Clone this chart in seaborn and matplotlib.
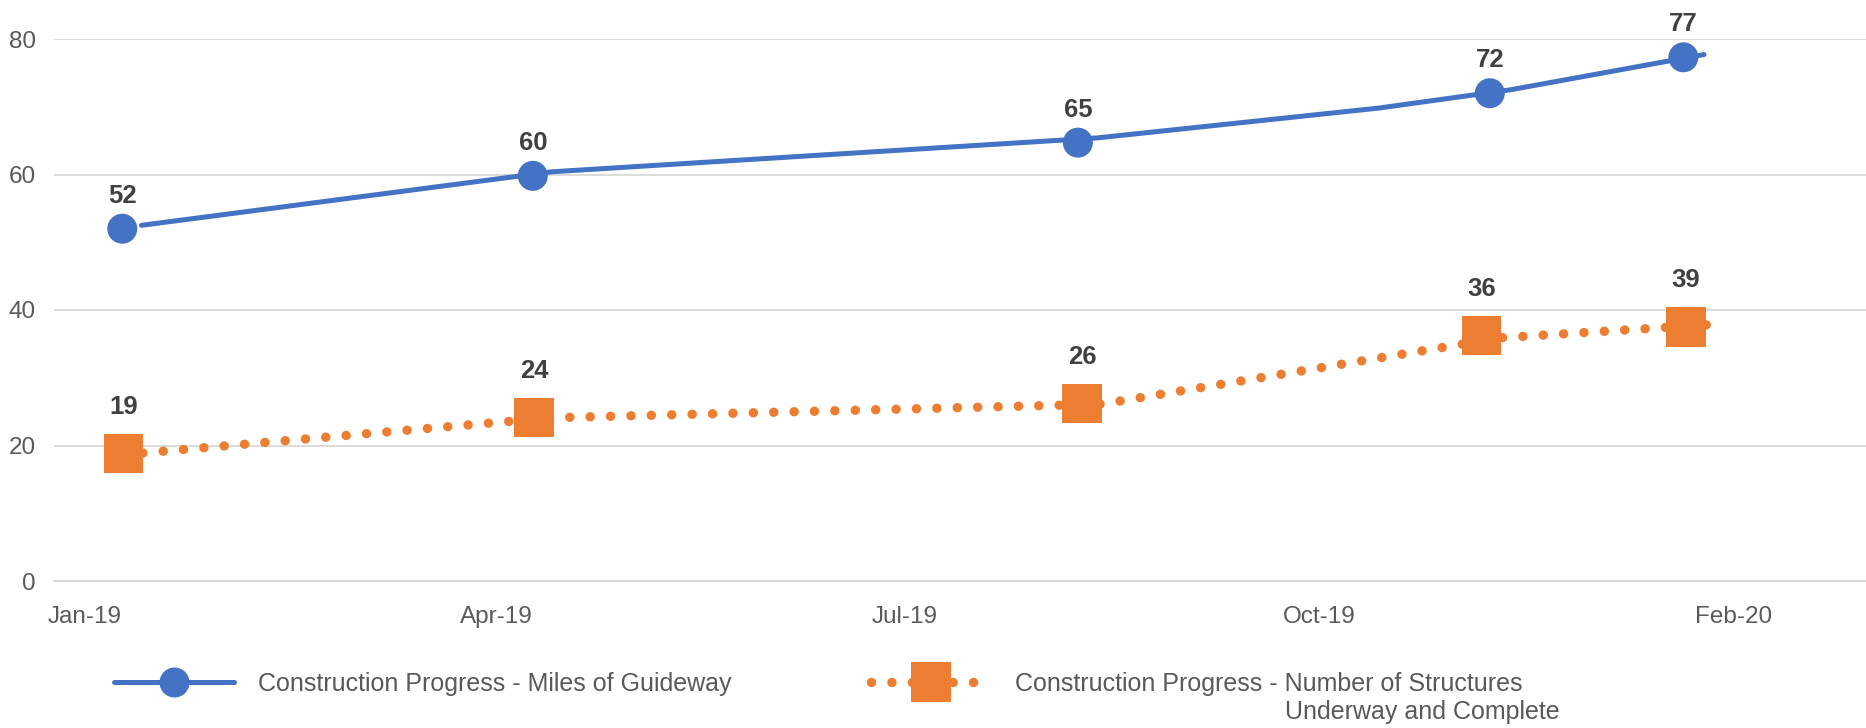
import seaborn as sns
import matplotlib.pyplot as plt
from matplotlib.lines import Line2D
import matplotlib.transforms as mtrans

# x axis in months from Jan-19, ticks every quarter (Excel labelled the last one Feb-20)
tick_pos = [0, 3, 6, 9, 12]
tick_labels = ['Jan-19', 'Apr-19', 'Jul-19', 'Oct-19', 'Feb-20']

# miles of guideway
guide_line_x = [0.64, 3.63, 7.60, 9.65, 10.61, 12.02]
guide_line_y = [52.5, 60.4, 65.4, 69.8, 72.5, 77.7]
guide_pt_x = [0.50, 3.49, 7.46, 10.46, 11.87]
guide_pt_y = [52.0, 59.8, 64.7, 72.0, 77.3]
guide_lbl = ['52', '60', '65', '72', '77']

# number of structures underway and complete
struct_line_x = [0.65, 3.63, 7.63, 10.54, 12.04]
struct_line_y = [18.9, 24.1, 26.1, 35.9, 37.8]
struct_pt_x = [0.51, 3.50, 7.49, 10.40, 11.89]
struct_pt_y = [18.8, 24.1, 26.2, 36.2, 37.5]
struct_lbl = ['19', '24', '26', '36', '39']

blue = '#4472C4'
orange = '#ED7D31'
grey = '#D9D9D9'
txt_col = '#595959'
font = ['Liberation Sans', 'DejaVu Sans']

sns.set_style('white')
plt.rcParams['font.family'] = font

fig = plt.figure(figsize=(18.66, 7.28), dpi=100)
ax = fig.add_axes([53.6/1866, 1-581/728, 1-53.6/1866, (581-39)/728])

sns.lineplot(x=guide_line_x, y=guide_line_y, ax=ax, color=blue, linewidth=3.6,
             solid_capstyle='round', zorder=2)
sns.lineplot(x=struct_line_x, y=struct_line_y, ax=ax, color=orange, linewidth=6.8,
             linestyle=(0, (0.01, 2.15)), dash_capstyle='round', zorder=2)
sns.scatterplot(x=guide_pt_x, y=guide_pt_y, ax=ax, color=blue, marker='o', s=21.6**2,
                edgecolor='none', zorder=3)
sns.scatterplot(x=struct_pt_x, y=struct_pt_y, ax=ax, color=orange, marker='s', s=28.4**2,
                edgecolor='none', zorder=3)

for x, y, t in zip(guide_pt_x, guide_pt_y, guide_lbl):
    ax.annotate(t, (x, y), xytext=(0, 23.8), textcoords='offset points', ha='center', va='center',
                fontsize=18.5, fontweight='bold', color='#404040', annotation_clip=False)
for x, y, t in zip(struct_pt_x, struct_pt_y, struct_lbl):
    ax.annotate(t, (x, y), xytext=(0, 33.8), textcoords='offset points', ha='center', va='center',
                fontsize=18.5, fontweight='bold', color='#404040', annotation_clip=False)

ax.set_xlim(0, 13.2)
ax.set_ylim(0, 80)
ax.set_yticks([0, 20, 40, 60, 80])
ax.set_xticks(tick_pos)
ax.set_xticklabels(tick_labels)
ax.yaxis.grid(True, color=grey, linewidth=1.3)
ax.xaxis.grid(False)
for s in ['left', 'right', 'top']:
    ax.spines[s].set_visible(False)
ax.spines['bottom'].set_color(grey)
ax.spines['bottom'].set_linewidth(1.3)
ax.tick_params(axis='y', length=0, pad=13, labelsize=17.5, labelcolor=txt_col)
ax.tick_params(axis='x', length=7.7, width=1, color=grey, direction='out', pad=10,
               labelsize=17.5, labelcolor=txt_col)
shift = mtrans.ScaledTranslation(-6/100, 0, fig.dpi_scale_trans)
for lab in ax.get_xticklabels():
    lab.set_horizontalalignment('left')
    lab.set_transform(lab.get_transform() + shift)
ax.set_xlabel('')
ax.set_ylabel('')

handles = [
    Line2D([], [], color=blue, linewidth=3.6, marker='o', markersize=21.6,
           markeredgewidth=0, solid_capstyle='round'),
    Line2D([], [], color=orange, linewidth=6.8, linestyle=(0, (0.01, 2.15)),
           dash_capstyle='round', marker='s', markersize=28.4, markeredgewidth=0),
]
labels = ['Construction Progress - Miles of Guideway',
          'Construction Progress - Number of Structures']
leg_size = 18
leg = fig.legend(handles, labels, loc='center left', bbox_to_anchor=(114/1866, 44/728),
                 ncol=2, frameon=False, borderpad=0, borderaxespad=0, numpoints=1,
                 handlelength=4.8, handletextpad=0.95, columnspacing=5.6,
                 prop={'size': leg_size})
for t in leg.get_texts():
    t.set_color(txt_col)

# second line of the orange label sits under "Number", as in Excel's wrapped legend
fig.canvas.draw()
r = fig.canvas.get_renderer()
bb = leg.get_texts()[1].get_window_extent(r)
probe = fig.text(0, 0, 'Number of Structures', fontsize=leg_size)
tail = probe.get_window_extent(r).width
probe.remove()
fig.text((bb.x1 - tail) / fig.bbox.width, (bb.y0 - 4) / fig.bbox.height,
         'Underway and Complete', fontsize=leg_size, color=txt_col, ha='left', va='top')

fig.savefig('out.png', dpi=100)
